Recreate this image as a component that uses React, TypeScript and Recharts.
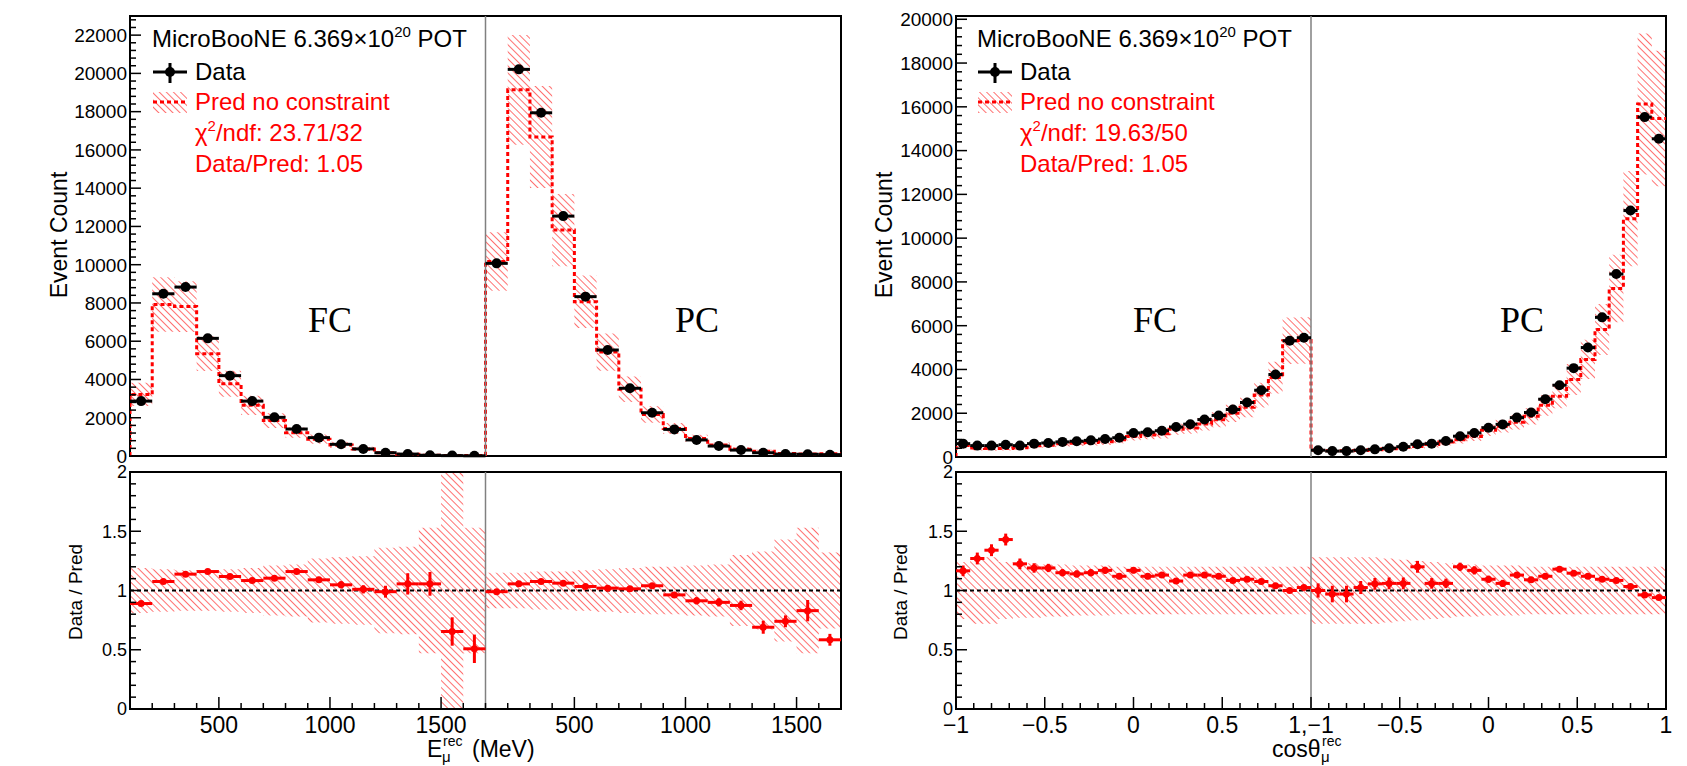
import {
  ComposedChart,
  Area,
  Line,
  Scatter,
  ErrorBar,
  XAxis,
  YAxis,
  ReferenceLine,
  ReferenceArea,
} from 'recharts'

const FONT = '"Liberation Sans", Arial, Helvetica, sans-serif'
const SERIF = '"Liberation Serif", "Times New Roman", serif'
const RED = '#ff0000'

// ---- left plot: reconstructed muon energy (MeV), FC bins followed by PC bins
const E_CENTERS = [150, 250, 350, 450, 550, 650, 750, 850, 950, 1050, 1150, 1250, 1350, 1450, 1550, 1650]
const E_FC_DATA = [2870, 8480, 8830, 6150, 4200, 2870, 2020, 1410, 960, 610, 370, 170, 100, 40, 20, 10]
const E_FC_PRED = [3220, 7920, 7810, 5350, 3780, 2650, 1850, 1220, 880, 580, 370, 170, 95, 40, 30, 20]
const E_FC_REL_ERR = [0.19, 0.18, 0.17, 0.17, 0.18, 0.19, 0.21, 0.22, 0.27, 0.28, 0.29, 0.36, 0.37, 0.53, 1.2, 0.53]
const E_FC_RATIO = [0.89, 1.076, 1.138, 1.16, 1.118, 1.084, 1.104, 1.16, 1.09, 1.048, 1.01, 0.99, 1.056, 1.056, 0.654, 0.508]
const E_FC_RATIO_ERR = [0.015, 0.012, 0.012, 0.012, 0.015, 0.015, 0.02, 0.02, 0.025, 0.03, 0.035, 0.05, 0.09, 0.1, 0.12, 0.12]

const E_PC_DATA = [10070, 20210, 17940, 12540, 8330, 5540, 3540, 2260, 1390, 840, 520, 310, 170, 100, 90, 70]
const E_PC_PRED = [10170, 19140, 16670, 11810, 8060, 5430, 3490, 2170, 1440, 920, 580, 355, 250, 135, 110, 120]
const E_PC_REL_ERR = [0.15, 0.15, 0.16, 0.16, 0.17, 0.18, 0.19, 0.2, 0.2, 0.21, 0.22, 0.3, 0.33, 0.43, 0.53, 0.32]
const E_PC_RATIO = [0.99, 1.056, 1.076, 1.062, 1.034, 1.02, 1.014, 1.04, 0.963, 0.913, 0.9, 0.874, 0.69, 0.74, 0.83, 0.584]
const E_PC_RATIO_ERR = [0.01, 0.008, 0.008, 0.01, 0.012, 0.015, 0.018, 0.02, 0.025, 0.03, 0.035, 0.04, 0.055, 0.05, 0.09, 0.05]

const E_MAJOR = [500, 1000, 1500, 2100, 2600, 3100]
const E_MAJOR_LABELS = ['500', '1000', '1500', '500', '1000', '1500']

// ---- right plot: reconstructed cos(theta_mu), FC bins followed by PC bins
const COS_CENTERS = [
  -0.96, -0.88, -0.8, -0.72, -0.64, -0.56, -0.48, -0.4, -0.32, -0.24, -0.16, -0.08, 0,
  0.08, 0.16, 0.24, 0.32, 0.4, 0.48, 0.56, 0.64, 0.72, 0.8, 0.88, 0.96,
]
const COS_FC_DATA = [610, 520, 520, 560, 520, 610, 640, 690, 720, 760, 820, 880, 1100, 1130, 1200, 1370, 1500, 1710, 1900, 2170, 2490, 3050, 3770, 5310, 5450]
const COS_FC_PRED = [520, 410, 390, 390, 420, 510, 540, 600, 630, 660, 700, 790, 940, 1010, 1060, 1270, 1330, 1510, 1700, 2000, 2270, 2830, 3630, 5310, 5320]
const COS_FC_REL_ERR = [0.24, 0.28, 0.28, 0.24, 0.23, 0.23, 0.22, 0.22, 0.21, 0.21, 0.21, 0.2, 0.2, 0.2, 0.2, 0.2, 0.2, 0.2, 0.2, 0.2, 0.2, 0.2, 0.2, 0.2, 0.2]
const COS_FC_RATIO = [1.166, 1.27, 1.34, 1.43, 1.225, 1.19, 1.19, 1.15, 1.14, 1.15, 1.17, 1.12, 1.17, 1.12, 1.13, 1.08, 1.13, 1.13, 1.12, 1.085, 1.095, 1.076, 1.04, 1.0, 1.025]
const COS_FC_RATIO_ERR = [0.045, 0.05, 0.05, 0.05, 0.045, 0.04, 0.035, 0.03, 0.03, 0.03, 0.03, 0.025, 0.025, 0.025, 0.02, 0.02, 0.02, 0.02, 0.015, 0.015, 0.015, 0.015, 0.012, 0.01, 0.01]

const COS_PC_DATA = [310, 270, 270, 310, 350, 400, 470, 580, 610, 730, 950, 1100, 1340, 1490, 1800, 2030, 2640, 3280, 4060, 5000, 6380, 8360, 11260, 15530, 14540]
const COS_PC_PRED = [310, 280, 280, 300, 330, 380, 440, 480, 575, 690, 790, 940, 1220, 1410, 1590, 1860, 2360, 2780, 3540, 4460, 5830, 7700, 10890, 16130, 15470]
const COS_PC_REL_ERR = [0.28, 0.28, 0.28, 0.28, 0.28, 0.27, 0.26, 0.25, 0.24, 0.23, 0.22, 0.22, 0.21, 0.21, 0.21, 0.2, 0.2, 0.2, 0.2, 0.2, 0.2, 0.2, 0.2, 0.2, 0.2]
const COS_PC_RATIO = [1.0, 0.97, 0.97, 1.025, 1.056, 1.06, 1.06, 1.2, 1.06, 1.06, 1.2, 1.17, 1.095, 1.06, 1.13, 1.09, 1.12, 1.18, 1.146, 1.12, 1.095, 1.085, 1.034, 0.963, 0.94]
const COS_PC_RATIO_ERR = [0.06, 0.07, 0.07, 0.055, 0.05, 0.05, 0.05, 0.05, 0.045, 0.04, 0.035, 0.035, 0.03, 0.03, 0.025, 0.025, 0.02, 0.02, 0.02, 0.015, 0.015, 0.015, 0.012, 0.01, 0.01]

const COS_MAJOR = [-1, -0.5, 0, 0.5, 1, 1.5, 2, 2.5, 3]
const COS_MAJOR_LABELS = ['\u22121', '\u22120.5', '0', '0.5', '1,\u22121', '\u22120.5', '0', '0.5', '1']

function steps(from: number, to: number, step: number) {
  const out: number[] = []
  for (let i = 0; from + i * step <= to + 1e-9; i++) out.push(Math.round((from + i * step) * 1000) / 1000)
  return out
}

type Region = { data: number[]; pred: number[]; relErr: number[]; ratio: number[]; ratioErr: number[] }

// FC and PC are drawn side by side: PC x values are shifted by `shift`
function buildSeries(centers: number[], halfW: number, shift: number, fc: Region, pc: Region) {
  const xs = [...centers, ...centers.map((c) => c + shift)]
  const cat = (k: keyof Region) => [...fc[k], ...pc[k]]
  const data = cat('data')
  const pred = cat('pred')
  const rel = cat('relErr')
  const ratio = cat('ratio')
  const ratioErr = cat('ratioErr')
  const n = xs.length
  const lastX = xs[n - 1] + halfW
  const points = xs.map((x, i) => ({ x, y: data[i], xerr: halfW }))
  const ratioPoints = xs.map((x, i) => ({ x, y: ratio[i], xerr: halfW, yerr: ratioErr[i] }))
  const step = [
    { x: xs[0] - halfW, y: 0 },
    ...xs.map((x, i) => ({ x: x - halfW, y: pred[i] })),
    { x: lastX, y: pred[n - 1] },
  ]
  const band = [
    ...xs.map((x, i) => ({ x: x - halfW, band: [pred[i] * (1 - rel[i]), pred[i] * (1 + rel[i])] })),
    { x: lastX, band: [pred[n - 1] * (1 - rel[n - 1]), pred[n - 1] * (1 + rel[n - 1])] },
  ]
  const ratioBand = [
    ...xs.map((x, i) => ({ x: x - halfW, band: [1 - rel[i], 1 + rel[i]] })),
    { x: lastX, band: [1 - rel[n - 1], 1 + rel[n - 1]] },
  ]
  return { points, ratioPoints, step, band, ratioBand }
}

const E_SERIES = buildSeries(
  E_CENTERS, 50, 1600,
  { data: E_FC_DATA, pred: E_FC_PRED, relErr: E_FC_REL_ERR, ratio: E_FC_RATIO, ratioErr: E_FC_RATIO_ERR },
  { data: E_PC_DATA, pred: E_PC_PRED, relErr: E_PC_REL_ERR, ratio: E_PC_RATIO, ratioErr: E_PC_RATIO_ERR },
)
const COS_SERIES = buildSeries(
  COS_CENTERS, 0.04, 2,
  { data: COS_FC_DATA, pred: COS_FC_PRED, relErr: COS_FC_REL_ERR, ratio: COS_FC_RATIO, ratioErr: COS_FC_RATIO_ERR },
  { data: COS_PC_DATA, pred: COS_PC_PRED, relErr: COS_PC_REL_ERR, ratio: COS_PC_RATIO, ratioErr: COS_PC_RATIO_ERR },
)

const LEFT = {
  id: 'e',
  left: 0,
  width: 860,
  plotLeft: 130,
  plotRight: 841,
  xDomain: [100, 3300] as [number, number],
  split: 1700,
  xTicks: steps(100, 3300, 100),
  xMajor: E_MAJOR,
  xLabels: E_MAJOR_LABELS,
  yMax: 23000,
  yTicks: steps(0, 22800, 400),
  plotBottom: 456,
  series: E_SERIES,
}
const RIGHT = {
  id: 'cos',
  left: 860,
  width: 827,
  plotLeft: 956,
  plotRight: 1666,
  xDomain: [-1, 3] as [number, number],
  split: 1,
  xTicks: steps(-1, 3, 0.1),
  xMajor: COS_MAJOR,
  xLabels: COS_MAJOR_LABELS,
  yMax: 20150,
  yTicks: steps(0, 20000, 400),
  plotBottom: 457,
  series: COS_SERIES,
}
type Side = typeof LEFT

function xTick(majors: number[], labels: string[], showLabels: boolean) {
  return (p: any) => {
    const v = p.payload.value
    const k = majors.findIndex((m) => Math.abs(m - v) < 1e-6)
    const len = k >= 0 ? 12 : 6
    return (
      <g>
        <line x1={p.x} x2={p.x} y1={p.y} y2={p.y - len} stroke="#000" strokeWidth={1.5} />
        {showLabels && k >= 0 && (
          <text x={p.x} y={p.y + 24} textAnchor="middle" fontSize={23} fontFamily={FONT} fill="#000">
            {labels[k]}
          </text>
        )}
      </g>
    )
  }
}

function yTick(majorStep: number, fontSize: number) {
  return (p: any) => {
    const v = p.payload.value
    const major = Math.abs(v / majorStep - Math.round(v / majorStep)) < 1e-6
    const len = major ? 11 : 6
    return (
      <g>
        <line x1={p.x} x2={p.x + len} y1={p.y} y2={p.y} stroke="#000" strokeWidth={1.5} />
        {major && (
          <text x={p.x - 3} y={p.y} dy="0.36em" textAnchor="end" fontSize={fontSize} fontFamily={FONT} fill="#000">
            {String(v)}
          </text>
        )}
      </g>
    )
  }
}

function Hatch({ id }: { id: string }) {
  return (
    <defs>
      <pattern id={id} width={5} height={5} patternUnits="userSpaceOnUse" patternTransform="rotate(45)">
        <line x1={0} x2={5} y1={2.5} y2={2.5} stroke={RED} strokeWidth={0.8} strokeOpacity={0.7} />
      </pattern>
    </defs>
  )
}

function TopPanel({ s }: { s: Side }) {
  const top = 0
  const height = 470
  const plotTop = 16
  const hatchId = `hatch-top-${s.id}`
  return (
    <div style={{ position: 'absolute', left: s.left, top }}>
      <ComposedChart
        width={s.width}
        height={height}
        margin={{ top: plotTop - top, right: s.left + s.width - s.plotRight, bottom: top + height - s.plotBottom, left: 0 }}
      >
        <Hatch id={hatchId} />
        <XAxis
          type="number"
          dataKey="x"
          domain={s.xDomain}
          ticks={s.xTicks}
          interval={0}
          tick={xTick(s.xMajor, s.xLabels, false)}
          tickSize={0}
          tickMargin={0}
          tickLine={false}
          axisLine={false}
          height={0}
          allowDataOverflow
        />
        <YAxis
          type="number"
          dataKey="y"
          domain={[0, s.yMax]}
          ticks={s.yTicks}
          interval={0}
          tick={yTick(2000, 19)}
          tickSize={0}
          tickMargin={0}
          tickLine={false}
          axisLine={false}
          width={s.plotLeft - s.left}
          allowDataOverflow
        />
        <Area
          data={s.series.band}
          dataKey="band"
          type="stepAfter"
          stroke="none"
          fill={`url(#${hatchId})`}
          fillOpacity={1}
          isAnimationActive={false}
        />
        <Line
          data={s.series.step}
          dataKey="y"
          type="stepAfter"
          stroke={RED}
          strokeWidth={3}
          strokeDasharray="4 3"
          dot={false}
          isAnimationActive={false}
        />
        <ReferenceLine x={s.split} stroke="#808080" strokeWidth={1.5} />
        <Scatter
          data={s.series.points}
          shape={(p: any) => <circle cx={p.cx} cy={p.cy} r={5} fill="#000" />}
          isAnimationActive={false}
        >
          <ErrorBar dataKey="xerr" direction="x" width={0} stroke="#000" strokeWidth={3} />
        </Scatter>
        <ReferenceArea
          x1={s.xDomain[0]}
          x2={s.xDomain[1]}
          y1={0}
          y2={s.yMax}
          fill="none"
          stroke="#000"
          strokeWidth={2}
        />
      </ComposedChart>
    </div>
  )
}

function RatioPanel({ s }: { s: Side }) {
  const top = 462
  const height = 304
  const plotTop = 472
  const plotBottom = 709
  const xAxisHeight = 40
  const hatchId = `hatch-ratio-${s.id}`
  return (
    <div style={{ position: 'absolute', left: s.left, top }}>
      <ComposedChart
        width={s.width}
        height={height}
        margin={{
          top: plotTop - top,
          right: s.left + s.width - s.plotRight,
          bottom: top + height - plotBottom - xAxisHeight,
          left: 0,
        }}
      >
        <Hatch id={hatchId} />
        <XAxis
          type="number"
          dataKey="x"
          domain={s.xDomain}
          ticks={s.xTicks}
          interval={0}
          tick={xTick(s.xMajor, s.xLabels, true)}
          tickSize={0}
          tickMargin={0}
          tickLine={false}
          axisLine={false}
          height={xAxisHeight}
          allowDataOverflow
        />
        <YAxis
          type="number"
          dataKey="y"
          domain={[0, 2]}
          ticks={steps(0, 2, 0.1)}
          interval={0}
          tick={yTick(0.5, 18)}
          tickSize={0}
          tickMargin={0}
          tickLine={false}
          axisLine={false}
          width={s.plotLeft - s.left}
          allowDataOverflow
        />
        <Area
          data={s.series.ratioBand}
          dataKey="band"
          type="stepAfter"
          stroke="none"
          fill={`url(#${hatchId})`}
          fillOpacity={1}
          isAnimationActive={false}
        />
        <ReferenceLine y={1} stroke="#000" strokeWidth={2} strokeDasharray="4 3" />
        <ReferenceLine x={s.split} stroke="#808080" strokeWidth={1.5} />
        <Scatter
          data={s.series.ratioPoints}
          shape={(p: any) => <circle cx={p.cx} cy={p.cy} r={3.5} fill={RED} />}
          isAnimationActive={false}
        >
          <ErrorBar dataKey="xerr" direction="x" width={0} stroke={RED} strokeWidth={3} />
          <ErrorBar dataKey="yerr" direction="y" width={0} stroke={RED} strokeWidth={3} />
        </Scatter>
        <ReferenceArea x1={s.xDomain[0]} x2={s.xDomain[1]} y1={0} y2={2} fill="none" stroke="#000" strokeWidth={2} />
      </ComposedChart>
    </div>
  )
}

function Legend({ dx, chi }: { dx: number; chi: string }) {
  return (
    <g fontFamily={FONT} fontSize={24}>
      <text x={152 + dx} y={47} fill="#000">
        MicroBooNE 6.369×10
        <tspan dy={-10} fontSize={15}>20</tspan>
        <tspan dy={10}> POT</tspan>
      </text>
      <line x1={153 + dx} x2={187 + dx} y1={72} y2={72} stroke="#000" strokeWidth={3} />
      <line x1={170 + dx} x2={170 + dx} y1={63} y2={83} stroke="#000" strokeWidth={3} />
      <circle cx={170 + dx} cy={72} r={5} fill="#000" />
      <text x={195 + dx} y={80} fill="#000">Data</text>
      <rect x={153 + dx} y={92} width={34} height={21} fill="url(#hatch-legend)" />
      <line x1={153 + dx} x2={187 + dx} y1={102} y2={102} stroke={RED} strokeWidth={3} strokeDasharray="4 3" />
      <text x={195 + dx} y={110} fill={RED}>Pred no constraint</text>
      <text x={195 + dx} y={141} fill={RED}>
        χ<tspan dy={-10} fontSize={15}>2</tspan>
        <tspan dy={10}>/ndf: {chi}</tspan>
      </text>
      <text x={195 + dx} y={172} fill={RED}>Data/Pred: 1.05</text>
    </g>
  )
}

function Overlay() {
  return (
    <svg width={1687} height={766} style={{ position: 'absolute', left: 0, top: 0, pointerEvents: 'none' }}>
      <Hatch id="hatch-legend" />
      <Legend dx={0} chi="23.71/32" />
      <Legend dx={825} chi="19.63/50" />

      <g fontFamily={SERIF} fontSize={36} fill="#000" textAnchor="middle">
        <text x={330} y={332}>FC</text>
        <text x={697} y={332}>PC</text>
        <text x={1155} y={332}>FC</text>
        <text x={1522} y={332}>PC</text>
      </g>

      <g fontFamily={FONT} fill="#000" textAnchor="middle">
        <text transform="translate(67,235) rotate(-90)" fontSize={23}>Event Count</text>
        <text transform="translate(892,235) rotate(-90)" fontSize={23}>Event Count</text>
        <text transform="translate(82,592) rotate(-90)" fontSize={19}>Data / Pred</text>
        <text transform="translate(907,592) rotate(-90)" fontSize={19}>Data / Pred</text>
      </g>

      <g fontFamily={FONT} fill="#000">
        <text x={427} y={757} fontSize={23}>E</text>
        <text x={443} y={746} fontSize={14}>rec</text>
        <text x={442} y={762} fontSize={15}>μ</text>
        <text x={472} y={757} fontSize={23}>(MeV)</text>

        <text x={1272} y={757} fontSize={23}>cosθ</text>
        <text x={1322} y={746} fontSize={14}>rec</text>
        <text x={1321} y={762} fontSize={15}>μ</text>
      </g>
    </svg>
  )
}

export default function App() {
  return (
    <div style={{ position: 'absolute', left: 0, top: 0, width: 1687, height: 766, background: '#fff', overflow: 'hidden' }}>
      <TopPanel s={LEFT} />
      <RatioPanel s={LEFT} />
      <TopPanel s={RIGHT} />
      <RatioPanel s={RIGHT} />
      <Overlay />
    </div>
  )
}
